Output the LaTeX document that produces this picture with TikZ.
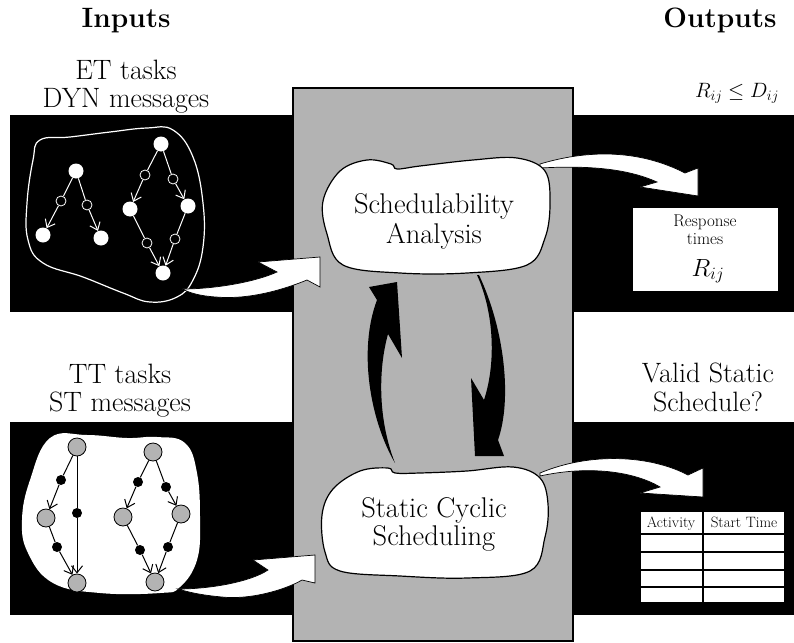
\documentclass[tikz,border=0pt]{standalone}
\usepackage{fontspec}
\usetikzlibrary{arrows.meta}
\definecolor{boxgray}{RGB}{179,179,179}
\tikzset{
  lbl/.style={anchor=base, inner sep=0pt, font=\fontsize{28}{28}\selectfont},
  hdr/.style={anchor=base, inner sep=0pt, font=\fontsize{28}{28}\selectfont\bfseries},
  bubtxt/.style={anchor=base, inner sep=0pt, font=\fontsize{28.5}{28}\selectfont},
  small/.style={anchor=base, inner sep=0pt, font=\fontsize{#1}{#1}\selectfont},
  band/.style={fill=black},
  centre/.style={fill=boxgray, draw=black, line width=1.5pt},
  fatarrow/.style={fill=white, draw=black, line width=0.7pt},
  loopar/.style={fill=black},
  bubble/.style={fill=white, draw=black, line width=1.2pt},
  tw/.style={circle, fill=white, inner sep=0pt, minimum size=15pt},
  th/.style={circle, draw=white, fill=black, line width=0.8pt, inner sep=0pt, minimum size=10pt},
  tl/.style={draw=white, line width=1pt},
  tla/.style={tl, -{Straight Barb[length=7pt,width=11pt]}},
  bg/.style={circle, fill=boxgray, draw=black, line width=0.8pt, inner sep=0pt, minimum size=18pt},
  bd/.style={circle, fill=black, inner sep=0pt, minimum size=10pt},
  bl/.style={draw=black, line width=1pt},
  bla/.style={bl, -{Straight Barb[length=7pt,width=11pt]}},
}
\begin{document}
\begin{tikzpicture}[x=1pt,y=-1pt]
\useasboundingbox (0,0) rectangle (794,642);
% bands
\fill[band] (10,115) rectangle (794,312);
\fill[band] (10,422) rectangle (794,615);
% centre box
\draw[centre] (293,88) rectangle (573,641);

% headers
\node[hdr] (inputs) at (126,28) {Inputs};
\node[hdr] (outputs) at (720,28) {Outputs};
\node[lbl] (et1) at (126,79) {ET tasks};
\node[lbl] (et2) at (126,107) {DYN messages};
\node[lbl] (tt1) at (120,383) {TT tasks};
\node[lbl] (tt2) at (120,411) {ST messages};
\node[lbl] (vs1) at (708,382) {Valid Static};
\node[lbl] (vs2) at (708,411) {Schedule?};
\node[anchor=base, inner sep=0pt, font=\fontsize{20}{20}\selectfont] (cond) at (737,97)
  {$R_{ij}\le D_{ij}$};

% top blob (ET / DYN)
\draw[white, line width=1.2pt, fill=black] plot[smooth cycle, tension=0.7] coordinates
  {(40,140) (70,137) (110,132) (147,128) (173,130) (193,157) (203,203) (203,247) (193,280) (177,297) (150,302) (123,293) (83,277) (43,263) (28,240) (27,203) (33,160)};
\node[tw] (a1) at (76,171) {};
\node[tw] (a2) at (43,235) {};
\node[tw] (a3) at (101,238) {};
\node[th] (m1) at (61,201) {};
\node[th] (m2) at (87,205) {};
\draw[tl] (a1) -- (m1); \draw[tla] (m1) -- (a2);
\draw[tl] (a1) -- (m2); \draw[tla] (m2) -- (a3);
\node[tw] (b1) at (161,144) {};
\node[tw] (b2) at (130,209) {};
\node[tw] (b3) at (188,206) {};
\node[tw] (b4) at (163,273) {};
\node[th] (n1) at (145,175) {};
\node[th] (n2) at (173,179) {};
\node[th] (n3) at (147,243) {};
\node[th] (n4) at (175,239) {};
\draw[tl] (b1) -- (n1); \draw[tla] (n1) -- (b2);
\draw[tl] (b1) -- (n2); \draw[tla] (n2) -- (b3);
\draw[tl] (b2) -- (n3); \draw[tla] (n3) -- (b4);
\draw[tl] (b3) -- (n4); \draw[tla] (n4) -- (b4);

% bottom blob (TT / ST)
\fill[white] plot[smooth cycle, tension=0.7] coordinates
  {(50,438) (87,435) (127,438) (157,437) (185,443) (197,473) (200,520) (197,560) (180,587) (160,593) (100,593) (53,583) (28,553) (22,520) (30,480)};
\node[bd] (p1) at (61,480) {};
\node[bd] (p2) at (57,547) {};
\node[bd] (p3) at (77,513) {};
\node[bg] (c1) at (77,447) {};
\node[bg] (c2) at (46,518) {};
\node[bg] (c3) at (77,583) {};
\draw[bl] (c1) -- (p1); \draw[bla] (p1) -- (c2);
\draw[bl] (c2) -- (p2); \draw[bla] (p2) -- (c3);
\draw[bl] (c1) -- (p3); \draw[bla] (p3) -- (c3);
\node[bd] (q1) at (138,482) {};
\node[bd] (q2) at (166,487) {};
\node[bd] (q3) at (140,550) {};
\node[bd] (q4) at (168,547) {};
\node[bg] (d1) at (153,452) {};
\node[bg] (d2) at (123,517) {};
\node[bg] (d3) at (181,514) {};
\node[bg] (d4) at (155,582) {};
\draw[bl] (d1) -- (q1); \draw[bla] (q1) -- (d2);
\draw[bl] (d1) -- (q2); \draw[bla] (q2) -- (d3);
\draw[bl] (d2) -- (q3); \draw[bla] (q3) -- (d4);
\draw[bl] (d3) -- (q4); \draw[bla] (q4) -- (d4);

% input fat arrows
\draw[fatarrow] (182,289) .. controls (215,289) and (255,282) .. (277,272) -- (258,262) -- (320,257) -- (320,287) -- (307,280)
  .. controls (285,289) and (250,300) .. (216,297) .. controls (200,296) and (190,293) .. (182,289) -- cycle;
\draw[fatarrow] (178,589) .. controls (210,589) and (250,582) .. (268,570) -- (253,560) -- (315,555) -- (315,583) -- (302,580)
  .. controls (285,590) and (250,600) .. (222,597) .. controls (200,595) and (188,592) .. (178,589) -- cycle;

% output fat arrows
\draw[fatarrow] (540,164) .. controls (590,149) and (640,150) .. (685,173) -- (698,168) -- (698,196) -- (640,187) -- (657,182)
  .. controls (630,170) and (595,165) .. (540,168) -- cycle;
\draw[fatarrow] (540,473) .. controls (590,452) and (650,455) .. (688,475) -- (703,468) -- (703,497) -- (640,493) -- (660,487)
  .. controls (635,472) and (590,465) .. (540,476) -- cycle;

% loop arrows
\fill[loopar] (395,463) .. controls (370,420) and (358,350) .. (377,300) -- (369,287) -- (397,282) -- (402,358) -- (388,334)
  .. controls (378,370) and (378,420) .. (395,463) -- cycle;
\fill[loopar] (477,275) .. controls (493,310) and (497,360) .. (484,400) -- (471,378) -- (475,456) -- (504,456) -- (498,440)
  .. controls (512,400) and (505,330) .. (479,275) -- cycle;

% bubbles
\draw[bubble] plot[smooth cycle, tension=0.6] coordinates
  {(397,169) (420,166) (473,160) (517,158) (545,171) (550,204) (545,238) (527,265) (467,273) (400,273) (343,265) (327,234) (323,201) (340,171) (367,160) (391,164)};
\node[bubtxt] (sa1) at (434,213) {Schedulability};
\node[bubtxt] (sa2) at (434,243) {Analysis};
\draw[bubble] plot[smooth cycle, tension=0.6] coordinates
  {(395,473) (420,473) (467,471) (513,467) (540,478) (548,504) (545,537) (530,571) (467,578) (400,576) (340,571) (325,552) (322,515) (333,489) (360,471) (388,468)};
\node[bubtxt] (sc1) at (434,517) {Static Cyclic};
\node[bubtxt] (sc2) at (434,545) {Scheduling};

% response box
\node[fill=white, inner sep=0pt, minimum width=145pt, minimum height=83pt, anchor=north west] (resp) at (633,208) {};
\node[small=17] (rt1) at (705,226) {Response};
\node[small=17] (rt2) at (705,244) {times};
\node[anchor=base, inner sep=0pt, font=\fontsize{23}{23}\selectfont] (rt3) at (708,276) {$R_{ij}$};

% table
\node[fill=white, draw=black, line width=1.5pt, inner sep=0pt, minimum width=145pt, minimum height=92pt, anchor=north west] (tbl) at (639,510) {};
\draw[black, line width=1.5pt] (703,510) -- (703,602);
\foreach \yy in {534,552,570,587} \draw[black, line width=1.5pt] (639,\yy) -- (784,\yy);
\node[small=15] (th1) at (671,527) {Activity};
\node[small=15] (th2) at (744,527) {Start Time};
\end{tikzpicture}
\end{document}
